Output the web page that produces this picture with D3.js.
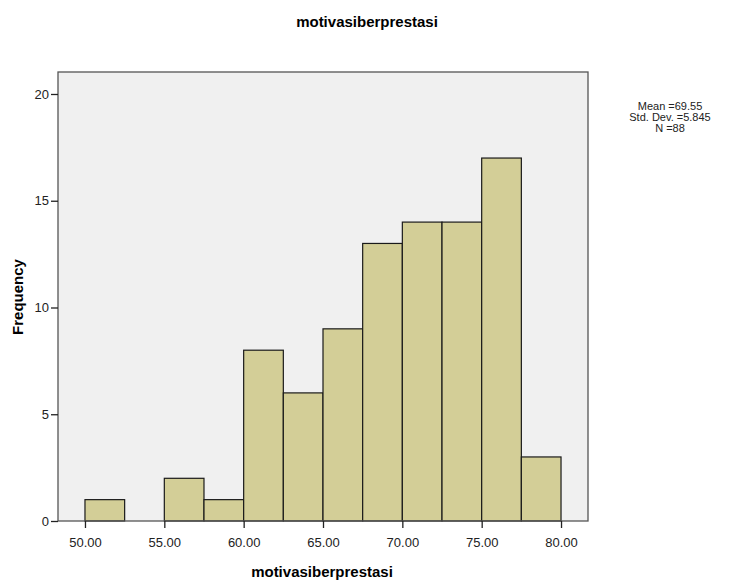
<!DOCTYPE html>
<html>
<head>
<meta charset="utf-8">
<script src="https://cdnjs.cloudflare.com/ajax/libs/d3/7.8.5/d3.min.js"></script>
<style>
  body { margin: 0; background: #fff; }
  svg text { font-family: "Liberation Sans", Arial, sans-serif; }
</style>
</head>
<body>
<svg id="chart" width="735" height="586"></svg>
<script>
// histogram bins (width 2.5) and their counts
const binStarts = [50, 52.5, 55, 57.5, 60, 62.5, 65, 67.5, 70, 72.5, 75, 77.5];
const counts = [1, 0, 2, 1, 8, 6, 9, 13, 14, 14, 17, 3];
const binWidth = 2.5;
const xTicks = [50, 55, 60, 65, 70, 75, 80];
const yTicks = [0, 5, 10, 15, 20];
const statsLines = ["Mean =69.55", "Std. Dev. =5.845", "N =88"];

const svg = d3.select("#chart");
const plot = { left: 58, right: 588, top: 72, bottom: 521 };

const x = d3.scaleLinear().domain([48.3, 81.7]).range([plot.left, plot.right]);
const y = d3.scaleLinear().domain([0, 21.03]).range([plot.bottom, plot.top]);

// plot background
svg.append("rect")
    .attr("x", plot.left).attr("y", plot.top)
    .attr("width", plot.right - plot.left)
    .attr("height", plot.bottom - plot.top)
    .attr("fill", "#f0f0f0");

// bars
svg.append("g").selectAll("rect")
    .data(binStarts.map((s, i) => ({ s, c: counts[i] })).filter(d => d.c > 0))
    .join("rect")
    .attr("x", d => x(d.s))
    .attr("y", d => y(d.c))
    .attr("width", d => x(d.s + binWidth) - x(d.s))
    .attr("height", d => y(0) - y(d.c))
    .attr("fill", "#d3ce97")
    .attr("stroke", "#1a1a1a")
    .attr("stroke-width", 1.2);

// frame
svg.append("rect")
    .attr("x", plot.left).attr("y", plot.top)
    .attr("width", plot.right - plot.left)
    .attr("height", plot.bottom - plot.top)
    .attr("fill", "none")
    .attr("stroke", "#555")
    .attr("stroke-width", 1.3);

// axes
const xAxis = svg.append("g")
    .attr("transform", `translate(0,${plot.bottom})`)
    .call(d3.axisBottom(x).tickValues(xTicks).tickFormat(d3.format(".2f")).tickSizeInner(7).tickSizeOuter(0));
const yAxis = svg.append("g")
    .attr("transform", `translate(${plot.left},0)`)
    .call(d3.axisLeft(y).tickValues(yTicks).tickFormat(d3.format("d")).tickSizeInner(7).tickSizeOuter(0));

[xAxis, yAxis].forEach(g => {
    g.select(".domain").remove();
    g.selectAll(".tick line").attr("stroke", "#222").attr("stroke-width", 1.3);
    g.selectAll(".tick text").attr("fill", "#222").attr("font-size", "13px");
});
xAxis.selectAll(".tick text").attr("dy", "1.2em");
yAxis.selectAll(".tick text").attr("x", -9);

// titles
svg.append("text")
    .attr("x", 367).attr("y", 27)
    .attr("text-anchor", "middle")
    .attr("font-size", "15px").attr("font-weight", "bold")
    .text("motivasiberprestasi");

svg.append("text")
    .attr("x", 322).attr("y", 577)
    .attr("text-anchor", "middle")
    .attr("font-size", "15px").attr("font-weight", "bold")
    .text("motivasiberprestasi");

svg.append("text")
    .attr("transform", "translate(23,297) rotate(-90)")
    .attr("text-anchor", "middle")
    .attr("font-size", "15px").attr("font-weight", "bold")
    .text("Frequency");

// stats box
svg.append("g").selectAll("text")
    .data(statsLines)
    .join("text")
    .attr("x", 670)
    .attr("y", (d, i) => 110 + i * 11)
    .attr("text-anchor", "middle")
    .attr("font-size", "11px")
    .attr("fill", "#222")
    .text(d => d);
</script>
</body>
</html>
